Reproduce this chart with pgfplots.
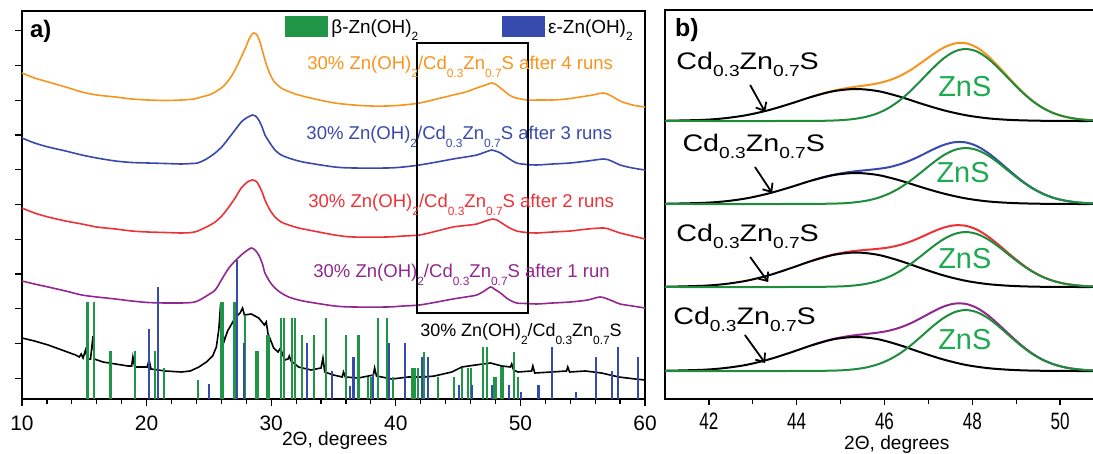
\documentclass[border=0pt]{standalone}
\usepackage{pgfplots}
\pgfplotsset{compat=1.18}
\usepackage{fontspec}
\setmainfont{Liberation Sans}
\newfontfamily\narrowfont[FakeStretch=0.72]{Liberation Sans}
\newfontfamily\widefont[FakeStretch=1.2]{Liberation Sans}
\usetikzlibrary{arrows.meta}
\definecolor{cOr}{RGB}{247,148,30}
\definecolor{cBl}{RGB}{57,73,171}
\definecolor{cRd}{RGB}{237,50,55}
\definecolor{cPu}{RGB}{146,39,143}
\definecolor{cGs}{RGB}{30,150,70}
\definecolor{cBs}{RGB}{55,75,175}
\definecolor{cGc}{RGB}{30,140,60}
\definecolor{cZn}{RGB}{30,170,80}
\newcommand{\sd}[1]{\raisebox{-3.8bp}{\fontsize{6}{6}\selectfont #1}}
\newcommand{\lab}{30\% Zn(OH)\sd{2}/Cd\sd{0.3}Zn\sd{0.7}S}
\newcommand{\sbb}[1]{\raisebox{-3.5bp}{\fontsize{8}{8}\selectfont #1}}
\newcommand{\cdzn}{{\widefont\fontsize{12}{12}\selectfont Cd\sbb{0.3}Zn\sbb{0.7}S}}
\begin{document}
\begin{tikzpicture}
\useasboundingbox (0,0) rectangle (546.5bp,227bp);
% ---------------- panel a ----------------
\begin{axis}[
  at={(11bp,27.5bp)}, anchor=south west,
  width=311.5bp, height=194bp, scale only axis,
  xmin=10, xmax=60, ymin=0, ymax=388,
  xtick={10,20,...,60}, minor x tick num=4,
  ytick={20.7,55.5,90.2,125,159.7,194.5,229.2,264,298.7,333.5,368.2},
  yticklabels={},
  tick pos=left, tick align=outside,
  major tick length=3.5bp, minor tick length=2.5bp,
  tick style={black, line width=0.6bp},
  axis line style={line width=0.8bp},
  /pgf/number format/assume math mode=true,
  xticklabel style={font=\fontsize{10.5}{11}\selectfont, anchor=base, yshift=-12.25bp},
  clip=false,
]
\addplot[cOr, line width=0.8bp, smooth] coordinates {
(10,326) (11,321) (12.1,317) (13.5,312) (14.8,307) (16,304) (17.5,302) (18.8,300) (20.1,299) (21.5,298.5) (22.8,299) (23.8,300) (24.4,302) (25,304) (25.5,307) (26.1,312) (26.6,319) (27.1,329) (27.6,342) (28,353) (28.3,362) (28.6,366) (28.85,364) (29.1,357) (29.5,339) (29.8,328) (30.2,318) (30.8,311) (31.5,307) (32.2,304) (33.5,300) (35.1,296) (36.6,294) (38,293) (39.3,293) (40.6,294) (41.9,296) (43.3,300) (44.6,304) (45.6,307) (46.5,311) (47.2,314) (47.7,316) (48.1,314) (48.4,311) (48.9,306) (49.4,302) (50.5,299) (51.5,299) (52.6,299) (53.7,300) (54.8,302) (55.8,304) (56.7,306) (57.3,303) (58,298) (59,294) (60,292)};
\addplot[cBl, line width=0.8bp, smooth] coordinates {
(10,261) (11,256) (12.1,252) (13.5,248) (14.8,244) (16,241) (17.5,238) (18.8,236.5) (20.1,236) (21.5,235.5) (22.8,235) (23.6,235.5) (24.1,236) (24.8,240) (25.5,246) (26.1,253) (26.6,261) (27.1,269) (27.6,277) (28,281) (28.5,284) (28.75,283) (29,279) (29.3,271) (29.5,264) (29.9,256) (30.3,249) (30.8,244) (31.4,241) (32.2,238) (33,236) (35.1,232) (36.6,231) (39.3,231) (40.6,232) (41.9,234) (43.3,237) (44.6,240) (45.6,242) (46.5,244) (47.2,247) (47.7,249) (48,248) (48.4,246) (49,241) (49.7,236) (50.5,234.5) (51.3,234) (52.6,235) (54,236) (55.4,238) (56.7,240) (57.3,238) (58,234) (59,231) (60,229)};
\addplot[cRd, line width=0.8bp, smooth] coordinates {
(10,191) (11,186) (12.1,182) (13.5,178) (14.8,175) (16,172) (17.5,170) (18.8,168) (20.1,167) (21.5,166.5) (22.8,166) (23.6,166.5) (24.1,168) (24.8,172) (25.5,177) (26.1,184) (26.6,192) (27.1,201) (27.6,211) (28.1,217) (28.5,219) (28.8,217.5) (29,214) (29.3,206) (29.5,199) (29.9,189) (30.3,182) (30.8,177) (31.4,174) (32.2,171) (33,169) (35.1,164) (36.6,162) (39.3,162) (40.6,163) (41.9,164) (43.3,168) (44.6,172) (45.6,173.5) (46.5,175) (47.2,178) (47.8,180) (48.1,179) (48.5,176) (49,172) (49.7,168) (50.5,166.5) (51.3,166) (52.6,167) (54,168) (55.4,170) (56.7,171) (57.3,169) (58,166) (59,163) (60,160)};
\addplot[cPu, line width=0.8bp, smooth] coordinates {
(10,118) (11,115) (12.1,112) (13.5,108) (14.8,104) (16,102) (17.5,100) (18.8,98) (20.1,96.5) (21.5,96) (22.8,96) (23.6,96.5) (24.1,98) (24.8,103) (25.5,109) (26,119) (26.6,131) (27.1,138) (27.6,144) (28,148) (28.4,151) (28.7,149) (29,144) (29.3,135) (29.5,126) (29.9,117) (30.3,111) (30.8,106) (31.4,102) (32.2,99) (33,97) (35.1,93) (36.6,92) (39.3,92) (40.6,93) (41.9,94) (43.3,97) (44.6,100) (45.6,102) (46.5,104) (47.1,108) (47.6,112) (47.9,110) (48.4,106) (49,100) (49.7,96) (50.5,95.5) (51.3,95) (52.6,96) (54,97) (55.4,99) (56.4,102) (57.2,99) (58,95) (59,93) (60,91)};
\addplot[black, line width=0.8bp] coordinates {
(10,61) (11,58) (12.1,54) (13.2,49) (14.3,44) (14.6,42) (14.75,45) (14.9,41) (15.1,49) (15.25,40) (15.5,40) (15.7,63) (15.8,40) (16.5,37) (17.5,35) (18.5,33) (18.8,33) (18.9,42) (19.05,32) (20.05,32) (20.2,39) (20.35,30) (21.5,28) (22.8,27) (23.5,28) (24.2,32) (24.8,37) (25.3,43) (25.6,52) (25.8,70) (25.9,88) (26.05,75) (26.2,57) (26.5,68) (27.1,81) (27.5,86) (27.7,91) (27.85,84) (28.4,85) (29.0,81) (29.45,74) (29.6,77) (29.75,65) (30.2,51) (30.55,47) (30.75,51) (30.9,45) (31.1,39) (31.35,40) (31.45,43) (31.6,38) (32.2,32) (33.2,29) (34.0,31) (34.15,41) (34.3,27) (35.0,24) (35.7,22) (35.8,27) (35.95,22) (37.0,21) (38.2,24) (38.3,31) (38.45,23) (39.7,20) (41.0,22) (42.1,22) (42.2,26) (42.35,22) (43.1,23) (44.5,27) (45.3,32) (46.4,34) (47.6,36) (48.5,33) (49.2,32) (49.3,35) (49.45,29) (49.8,27) (50.9,28) (51.0,33) (51.15,26) (52.5,27) (53.7,28) (53.8,32) (53.95,27) (55.2,28) (56.5,26) (57.9,22) (59.2,20) (60,19)};
\addplot[ycomb, cGs, line width=1.1bp, no marks] coordinates {
(15.25,97) (15.8,97) (17.1,48) (19.05,48) (20.7,48) (21.4,31) (24.1,19) (25.97,97) (26.15,97) (27.05,97) (27.9,84) (28.75,48) (28.9,48) (29.7,64) (29.8,64) (30.8,81) (31.0,81) (31.7,81) (31.9,81) (32.45,64) (33.45,64) (34.4,81) (36.0,64) (37.0,64) (37.8,22) (38.05,22) (38.55,81) (39.27,81) (39.8,22) (41.27,31) (41.5,31) (41.8,31) (42.25,47) (43.4,22) (44.7,22) (45.3,31) (45.77,31) (46.04,31) (46.97,52) (47.29,52) (47.9,22) (48.04,22) (48.42,32) (48.6,32) (49.46,47) (49.83,22)};
\addplot[ycomb, cBs, line width=1.1bp, no marks] coordinates {
(20.17,70) (20.89,112) (25.03,15) (27.23,139) (27.82,56) (32.85,56) (34.85,28) (36.33,13) (36.6,42) (38.15,25) (39.45,56) (40.74,56) (42.13,42) (42.6,42) (45.07,14) (46.14,14) (47.74,14) (49.08,14) (50.05,7) (51.45,14) (52.51,52) (54.44,7) (56.04,42) (57.33,28) (57.86,52) (59.46,42)};
\draw[line width=1bp] (axis cs:41.7,86) rectangle (axis cs:50.61,356);
\fill[cGs] (axis cs:31.1,362) rectangle (axis cs:34.55,383);
\fill[cBs] (axis cs:48.52,362) rectangle (axis cs:51.97,383);
\node[anchor=base west, inner sep=0, font=\fontsize{9.5}{10}\selectfont] at (axis cs:34.8,365.7) {β-Zn(OH)\sd{2}};
\node[anchor=base west, inner sep=0, font=\fontsize{9.5}{10}\selectfont] at (axis cs:52.2,365.7) {ε-Zn(OH)\sd{2}};
\node[anchor=base west, inner sep=0, text=cOr, font=\fontsize{9.3}{10}\selectfont] at (axis cs:32.87,329) {\lab\ after 4 runs};
\node[anchor=base west, inner sep=0, text=cBl, font=\fontsize{9.3}{10}\selectfont] at (axis cs:32.8,259) {\lab\ after 3 runs};
\node[anchor=base west, inner sep=0, text=cRd, font=\fontsize{9.3}{10}\selectfont] at (axis cs:32.95,191) {\lab\ after 2 runs};
\node[anchor=base west, inner sep=0, text=cPu, font=\fontsize{9.3}{10}\selectfont] at (axis cs:33.35,121) {\lab\ after 1 run};
\node[anchor=base west, inner sep=0, font=\fontsize{9}{10}\selectfont] at (axis cs:41.94,62.5) {\lab};
\node[font=\bfseries\fontsize{12}{12}\selectfont] at (axis cs:11.5,368) {a)};
\node[font=\fontsize{9.6}{10}\selectfont] at (axis cs:35.1,-41.7) {2Θ, degrees};
\end{axis}
% ---------------- panel b ----------------
\begin{axis}[
  at={(332.5bp,27.5bp)}, anchor=south west,
  width=214bp, height=194.5bp, scale only axis,
  xmin=41, xmax=50.75, ymin=0, ymax=389,
  xtick={42,44,...,50}, minor x tick num=1, ytick=\empty,
  tick pos=left, tick align=outside,
  major tick length=3bp, minor tick length=2.5bp,
  tick style={black, line width=0.6bp},
  axis line style={draw=none},
  /pgf/number format/assume math mode=true,
  xticklabel style={font=\narrowfont\fontsize{11.9}{12}\selectfont, anchor=base, yshift=-12bp},
  clip=false,
]
\draw[line width=0.8bp] (rel axis cs:1.05,1) -- (rel axis cs:0,1) -- (rel axis cs:0,0) -- (rel axis cs:1.05,0);
% group 1 (orange)
\addplot[cOr, line width=1bp, smooth] coordinates {
(44.35,302.4) (44.6,305.6) (44.85,308.4) (45.1,310.6) (45.35,312.3) (45.6,313.8) (45.85,315.7) (46.1,318.6) (46.35,323.0) (46.6,329.1) (46.85,336.7) (47.1,344.5) (47.35,351.4) (47.6,355.5) (47.85,355.8) (48.1,351.6) (48.35,343.4) (48.6,332.5) (48.85,320.5) (49.1,309.0) (49.35,299.1) (49.6,291.4) (49.85,286.0) (50.1,282.4) (50.35,280.3) (50.6,279.1) (50.75,278.7)};
\addplot[black, line width=1bp, smooth] coordinates {
(41,278.2) (41.85,279.1) (42.35,280.7) (42.85,283.8) (43.35,288.7) (43.85,295.2) (44.35,302.3) (44.85,307.9) (45.35,310.0) (45.85,307.9) (46.35,302.3) (46.85,295.2) (47.35,288.7) (47.85,283.8) (48.35,280.7) (48.85,279.1) (49.35,278.4) (49.85,278.1) (50.35,278.0) (50.75,278.0)};
\addplot[cGc, line width=1bp, smooth] coordinates {
(41,278) (43.85,278) (44.35,278.1) (44.6,278.2) (44.85,278.5) (45.1,279.1) (45.35,280.3) (45.6,282.4) (45.85,285.8) (46.1,291.2) (46.35,298.7) (46.6,308.3) (46.85,319.4) (47.1,330.7) (47.35,340.7) (47.6,347.6) (47.85,350.0) (48.1,347.6) (48.35,340.7) (48.6,330.7) (48.85,319.4) (49.1,308.3) (49.35,298.7) (49.6,291.2) (49.85,285.8) (50.1,282.4) (50.35,280.3) (50.6,279.1) (50.75,278.7)};
% group 2 (blue)
\addplot[cBl, line width=1bp, smooth] coordinates {
(44.35,218.6) (44.6,221.7) (44.85,224.3) (45.1,226.3) (45.35,227.8) (45.6,228.9) (45.85,230.1) (46.1,231.8) (46.35,234.7) (46.6,238.8) (46.85,243.9) (47.1,249.4) (47.35,254.1) (47.6,256.8) (47.85,256.6) (48.1,253.0) (48.35,246.4) (48.6,237.7) (48.85,228.3) (49.1,219.2) (49.35,211.5) (49.6,205.5) (49.85,201.2) (50.1,198.5) (50.35,196.8) (50.6,195.9) (50.75,195.5)};
\addplot[black, line width=1bp, smooth] coordinates {
(41,195.2) (41.85,196.1) (42.35,197.6) (42.85,200.6) (43.35,205.4) (43.85,211.7) (44.35,218.6) (44.85,224.0) (45.35,226.0) (45.85,224.0) (46.35,218.6) (46.85,211.7) (47.35,205.4) (47.85,200.6) (48.35,197.6) (48.85,196.1) (49.35,195.4) (49.85,195.1) (50.35,195.0) (50.75,195.0)};
\addplot[cGc, line width=1bp, smooth] coordinates {
(41,195) (43.85,195) (44.35,195.1) (44.6,195.2) (44.85,195.4) (45.1,195.8) (45.35,196.8) (45.6,198.4) (45.85,201.1) (46.1,205.3) (46.35,211.1) (46.6,218.6) (46.85,227.2) (47.1,236.0) (47.35,243.8) (47.6,249.1) (47.85,251.0) (48.1,249.1) (48.35,243.8) (48.6,236.0) (48.85,227.2) (49.1,218.6) (49.35,211.1) (49.6,205.3) (49.85,201.1) (50.1,198.4) (50.35,196.8) (50.6,195.8) (50.75,195.5)};
% group 3 (red)
\addplot[cRd, line width=1bp, smooth] coordinates {
(44.35,138.3) (44.6,141.7) (44.85,144.6) (45.1,146.7) (45.35,148.2) (45.6,149.2) (45.85,150.2) (46.1,151.6) (46.35,154.0) (46.6,157.6) (46.85,162.2) (47.1,167.2) (47.35,171.4) (47.6,173.7) (47.85,173.2) (48.1,169.5) (48.35,162.8) (48.6,154.2) (48.85,144.8) (49.1,135.9) (49.35,128.2) (49.6,122.3) (49.85,118.1) (50.1,115.4) (50.35,113.8) (50.6,112.8) (50.75,112.5)};
\addplot[black, line width=1bp, smooth] coordinates {
(41,112.2) (41.85,113.2) (42.35,114.9) (42.85,118.2) (43.35,123.5) (43.85,130.6) (44.35,138.2) (44.85,144.2) (45.35,146.5) (45.85,144.2) (46.35,138.2) (46.85,130.6) (47.35,123.5) (47.85,118.2) (48.35,114.9) (48.85,113.2) (49.35,112.4) (49.85,112.1) (50.35,112.0) (50.75,112.0)};
\addplot[cGc, line width=1bp, smooth] coordinates {
(41,112) (43.85,112) (44.35,112.1) (44.6,112.2) (44.85,112.4) (45.1,112.8) (45.35,113.7) (45.6,115.3) (45.85,118.0) (46.1,122.1) (46.35,127.8) (46.6,135.2) (46.85,143.6) (47.1,152.3) (47.35,159.9) (47.6,165.1) (47.85,167.0) (48.1,165.1) (48.35,159.9) (48.6,152.3) (48.85,143.6) (49.1,135.2) (49.35,127.8) (49.6,122.1) (49.85,118.0) (50.1,115.3) (50.35,113.7) (50.6,112.8) (50.75,112.5)};
% group 4 (purple)
\addplot[cPu, line width=1bp, smooth] coordinates {
(44.35,53.9) (44.6,57.3) (44.85,60.2) (45.1,62.3) (45.35,63.9) (45.6,65.1) (45.85,66.4) (46.1,68.3) (46.35,71.4) (46.6,75.8) (46.85,81.4) (47.1,87.3) (47.35,92.5) (47.6,95.4) (47.85,95.1) (48.1,91.2) (48.35,84.0) (48.6,74.5) (48.85,64.3) (49.1,54.4) (49.35,46.0) (49.6,39.4) (49.85,34.8) (50.1,31.8) (50.35,29.9) (50.6,28.9) (50.75,28.6)};
\addplot[black, line width=1bp, smooth] coordinates {
(41,28.2) (41.85,29.2) (42.35,30.9) (42.85,34.1) (43.35,39.4) (43.85,46.3) (44.35,53.8) (44.85,59.8) (45.35,62.0) (45.85,59.8) (46.35,53.8) (46.85,46.3) (47.35,39.4) (47.85,34.1) (48.35,30.9) (48.85,29.2) (49.35,28.4) (49.85,28.1) (50.35,28.0) (50.75,28.0)};
\addplot[cGc, line width=1bp, smooth] coordinates {
(41,28) (43.85,28) (44.35,28.1) (44.6,28.2) (44.85,28.4) (45.1,28.9) (45.35,29.9) (45.6,31.7) (45.85,34.7) (46.1,39.2) (46.35,45.5) (46.6,53.7) (46.85,63.1) (47.1,72.7) (47.35,81.1) (47.6,86.9) (47.85,89.0) (48.1,86.9) (48.35,81.1) (48.6,72.7) (48.85,63.1) (49.1,53.7) (49.35,45.5) (49.6,39.2) (49.85,34.7) (50.1,31.7) (50.35,29.9) (50.6,28.9) (50.75,28.6)};
% labels
\node[anchor=base west, inner sep=0] at (axis cs:41.25,329) {\cdzn};
\node[anchor=base west, inner sep=0] at (axis cs:41.39,247) {\cdzn};
\node[anchor=base west, inner sep=0] at (axis cs:41.25,157) {\cdzn};
\node[anchor=base west, inner sep=0] at (axis cs:41.18,74) {\cdzn};
\draw[line width=0.9bp, -{Straight Barb[length=3.5bp,width=6bp]}] (axis cs:42.94,314) -- (axis cs:43.28,287);
\draw[line width=0.9bp, -{Straight Barb[length=3.5bp,width=6bp]}] (axis cs:43.05,232) -- (axis cs:43.44,206);
\draw[line width=0.9bp, -{Straight Barb[length=3.5bp,width=6bp]}] (axis cs:42.94,142) -- (axis cs:43.35,117);
\draw[line width=0.9bp, -{Straight Barb[length=3.5bp,width=6bp]}] (axis cs:42.82,64) -- (axis cs:43.28,36);
\node[text=cZn, font=\fontsize{14.5}{14.5}\selectfont] at (axis cs:47.83,312) {ZnS};
\node[text=cZn, font=\fontsize{14.5}{14.5}\selectfont] at (axis cs:47.79,226) {ZnS};
\node[text=cZn, font=\fontsize{14.5}{14.5}\selectfont] at (axis cs:47.83,140) {ZnS};
\node[text=cZn, font=\fontsize{14.5}{14.5}\selectfont] at (axis cs:47.83,59) {ZnS};
\node[font=\bfseries\fontsize{12.5}{12.5}\selectfont] at (axis cs:41.5,369) {b)};
\node[font=\fontsize{9.6}{10}\selectfont] at (axis cs:46.28,-46) {2Θ, degrees};
\end{axis}
\end{tikzpicture}
\end{document}
